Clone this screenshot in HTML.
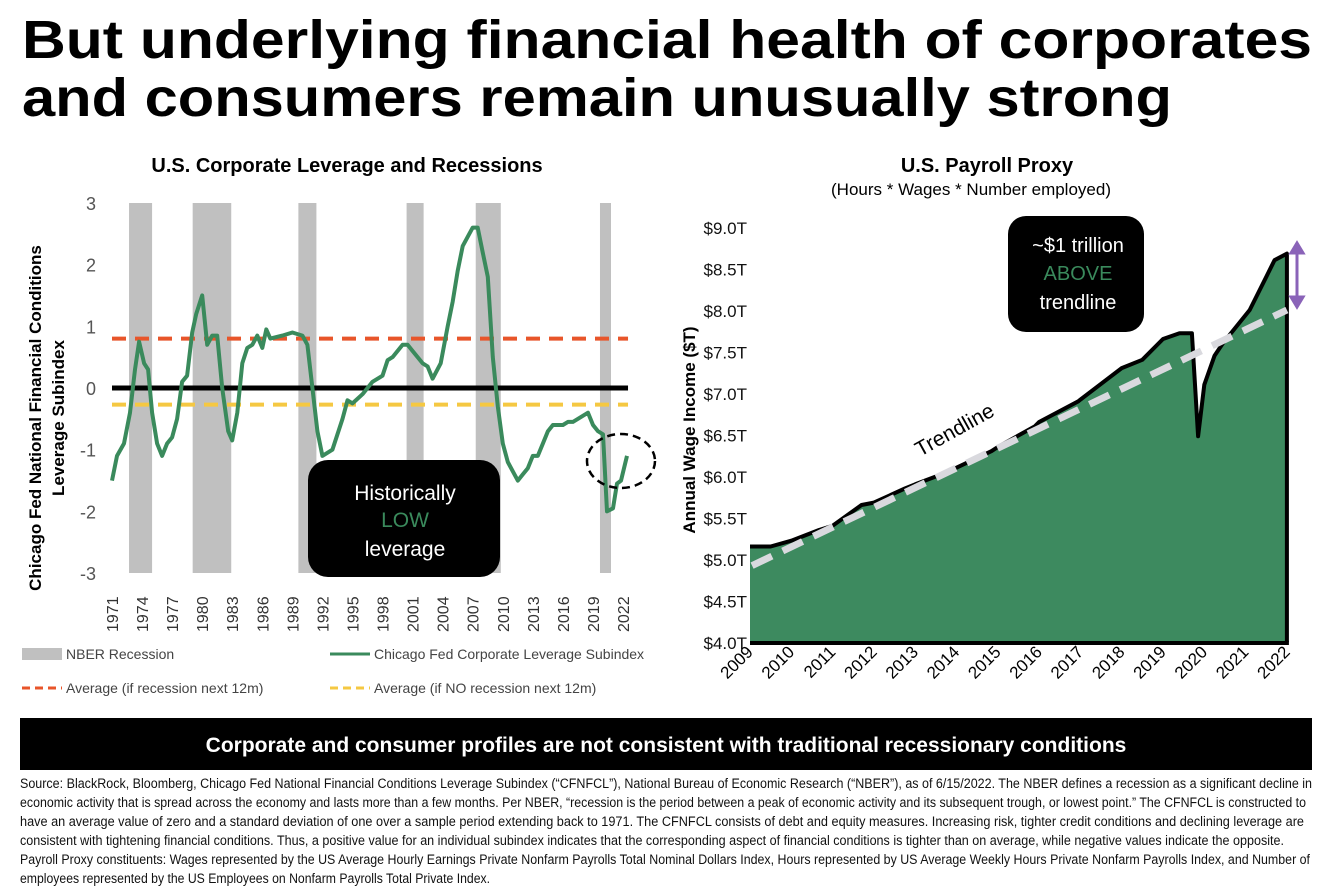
<!DOCTYPE html>
<html><head><meta charset="utf-8"><style>
html,body{margin:0;padding:0;background:#fff}
svg{display:block}
text{font-family:"Liberation Sans",sans-serif}
</style></head><body>
<svg id="s" width="1332" height="890" viewBox="0 0 1332 890" xmlns="http://www.w3.org/2000/svg">
<text x="22" y="58" font-size="54" font-weight="bold" textLength="1290" lengthAdjust="spacingAndGlyphs">But underlying financial health of corporates</text>
<text x="22" y="116" font-size="54" font-weight="bold" textLength="1150" lengthAdjust="spacingAndGlyphs">and consumers remain unusually strong</text>

<text x="347" y="172" font-size="20" font-weight="bold" text-anchor="middle">U.S. Corporate Leverage and Recessions</text>
<text x="987" y="172" font-size="20" font-weight="bold" text-anchor="middle">U.S. Payroll Proxy</text>
<text x="971" y="195" font-size="17" text-anchor="middle">(Hours * Wages * Number employed)</text>

<g id="left"></g>
<g id="right"></g>

<text transform="translate(41,418) rotate(-90)" font-size="17" font-weight="bold" text-anchor="middle">Chicago Fed National Financial Conditions</text>
<text transform="translate(64,418) rotate(-90)" font-size="17" font-weight="bold" text-anchor="middle">Leverage Subindex</text>
<text transform="translate(695,430) rotate(-90)" font-size="17" font-weight="bold" text-anchor="middle">Annual Wage Income ($T)</text>

<g font-size="14" fill="#444">
<rect x="22" y="648" width="40" height="12" fill="#c0c0c0"/>
<text x="66" y="659">NBER Recession</text>
<line x1="330" y1="654" x2="370" y2="654" stroke="#3a8a5c" stroke-width="3"/>
<text x="374" y="659">Chicago Fed Corporate Leverage Subindex</text>
<line x1="22" y1="688" x2="62" y2="688" stroke="#e8552a" stroke-width="3" stroke-dasharray="8,5"/>
<text x="66" y="693">Average (if recession next 12m)</text>
<line x1="330" y1="688" x2="370" y2="688" stroke="#f5c842" stroke-width="3" stroke-dasharray="8,5"/>
<text x="374" y="693">Average (if NO recession next 12m)</text>
</g>

<rect x="20" y="718" width="1292" height="52" fill="#000"/>
<text x="666" y="752" font-size="21" font-weight="bold" fill="#fff" text-anchor="middle">Corporate and consumer profiles are not consistent with traditional recessionary conditions</text>

<g font-size="13.5" fill="#111">
<text x="20" y="788" textLength="1292" lengthAdjust="spacingAndGlyphs">Source: BlackRock, Bloomberg, Chicago Fed National Financial Conditions Leverage Subindex (“CFNFCL”), National Bureau of Economic Research (“NBER”), as of 6/15/2022. The NBER defines a recession as a significant decline in</text>
<text x="20" y="807" textLength="1286" lengthAdjust="spacingAndGlyphs">economic activity that is spread across the economy and lasts more than a few months. Per NBER, “recession is the period between a peak of economic activity and its subsequent trough, or lowest point.” The CFNFCL is constructed to</text>
<text x="20" y="826" textLength="1284" lengthAdjust="spacingAndGlyphs">have an average value of zero and a standard deviation of one over a sample period extending back to 1971. The CFNFCL consists of debt and equity measures. Increasing risk, tighter credit conditions and declining leverage are</text>
<text x="20" y="845" textLength="1264" lengthAdjust="spacingAndGlyphs">consistent with tightening financial conditions. Thus, a positive value for an individual subindex indicates that the corresponding aspect of financial conditions is tighter than on average, while negative values indicate the opposite.</text>
<text x="20" y="864" textLength="1290" lengthAdjust="spacingAndGlyphs">Payroll Proxy constituents: Wages represented by the US Average Hourly Earnings Private Nonfarm Payrolls Total Nominal Dollars Index, Hours represented by US Average Weekly Hours Private Nonfarm Payrolls Index, and Number of</text>
<text x="20" y="883" textLength="470" lengthAdjust="spacingAndGlyphs">employees represented by the US Employees on Nonfarm Payrolls Total Private Index.</text>
</g>
</svg>
<script>
const NS='http://www.w3.org/2000/svg';
// ---- Left chart data ----
const levYears=[1971,1971.5,1972.2,1972.8,1973.3,1973.7,1974.2,1974.6,1975,1975.5,1976,1976.5,1977,1977.5,1978,1978.5,1979,1979.4,1980,1980.5,1981,1981.5,1982,1982.6,1983,1983.5,1984,1984.5,1985,1985.5,1986,1986.4,1986.8,1988,1989,1990,1990.5,1991,1991.5,1992,1993,1994,1994.5,1995,1996,1997,1998,1998.5,1999,2000,2000.5,2001,2001.5,2002,2002.5,2003,2003.8,2004.5,2005,2005.5,2006,2007,2007.5,2008,2008.5,2009,2009.5,2010,2010.5,2011,2011.5,2012,2012.5,2013,2013.5,2014,2014.5,2015,2016,2016.5,2017,2018,2018.5,2019,2019.5,2020,2020.4,2021,2021.4,2021.8,2022.4];
const levValues=[-1.5,-1.1,-0.9,-0.4,0.3,0.75,0.4,0.3,-0.4,-0.9,-1.1,-0.9,-0.8,-0.5,0.1,0.2,0.9,1.2,1.5,0.7,0.85,0.85,0,-0.7,-0.85,-0.4,0.4,0.65,0.7,0.85,0.65,0.95,0.8,0.85,0.9,0.85,0.7,0,-0.7,-1.1,-1.0,-0.5,-0.2,-0.25,-0.1,0.1,0.2,0.45,0.5,0.7,0.7,0.6,0.5,0.4,0.35,0.15,0.4,1.0,1.4,1.9,2.3,2.6,2.6,2.2,1.8,0.5,-0.3,-0.9,-1.2,-1.35,-1.5,-1.4,-1.3,-1.1,-1.1,-0.9,-0.7,-0.6,-0.6,-0.55,-0.55,-0.45,-0.4,-0.6,-0.7,-0.75,-2.0,-1.95,-1.55,-1.5,-1.1];
const recStart=[1972.7,1979.05,1989.6,2000.4,2007.3,2019.7];
const recEnd=[1975.0,1982.9,1991.4,2002.1,2009.8,2020.8];
const levTicks=[3,2,1,0,-1,-2,-3];
const levXTicks=[1971,1974,1977,1980,1983,1986,1989,1992,1995,1998,2001,2004,2007,2010,2013,2016,2019,2022];
const avgRecession=0.8, avgNoRecession=-0.27;
// ---- Right chart data ----
const payYears=[2009,2009.5,2010,2010.67,2011,2011.7,2012,2012.75,2013,2013.8,2014,2014.85,2015,2015.9,2016,2016.95,2017,2018,2018.5,2019,2019.4,2019.7,2019.85,2020.0,2020.25,2020.45,2021.1,2021.5,2021.7,2022];
const payValues=[5.15,5.15,5.22,5.35,5.4,5.65,5.68,5.85,5.9,6.05,6.1,6.3,6.35,6.6,6.65,6.9,6.92,7.3,7.4,7.65,7.72,7.72,6.48,7.1,7.45,7.6,8.0,8.4,8.6,8.68];
const trendYears=[2009.05,2022];
const trendValues=[4.92,8.0];
const payTicks=[9.0,8.5,8.0,7.5,7.0,6.5,6.0,5.5,5.0,4.5,4.0];
const payXTicks=[2009,2010,2011,2012,2013,2014,2015,2016,2017,2018,2019,2020,2021,2022];

function mk(p,tag,a){const e=document.createElementNS(NS,tag);for(const k in a)e.setAttribute(k,a[k]);p.appendChild(e);return e;}

// left
const L=document.getElementById('left');
const lx=y=>112+(y-1971)*10.02;
const ly=v=>388-v*61.7;
recStart.forEach((s,i)=>{const r=mk(L,'rect',{x:lx(s),y:203,width:lx(recEnd[i])-lx(s),height:370,fill:'#c0c0c0'});

});
levTicks.forEach(t=>{const e=mk(L,'text',{x:96,y:ly(t)+7,'font-size':18,fill:'#555','text-anchor':'end'});e.textContent=t;

});
levXTicks.forEach(t=>{const e=mk(L,'text',{transform:`translate(${lx(t)+6},632) rotate(-90)`,'font-size':16,fill:'#333'});e.textContent=t;

});
let z=mk(L,'line',{x1:lx(1971),x2:lx(2022.5),y1:ly(0),y2:ly(0),stroke:'#000','stroke-width':5});


let r1=mk(L,'line',{x1:lx(1971),x2:lx(2022.5),y1:ly(avgRecession),y2:ly(avgRecession),stroke:'#e8552a','stroke-width':4,'stroke-dasharray':'14,9'});


let r2=mk(L,'line',{x1:lx(1971),x2:lx(2022.5),y1:ly(avgNoRecession),y2:ly(avgNoRecession),stroke:'#f5c842','stroke-width':4,'stroke-dasharray':'14,9'});


let lp=mk(L,'path',{d:levYears.map((y,i)=>(i?'L':'M')+lx(y).toFixed(1)+','+ly(levValues[i]).toFixed(1)).join(''),fill:'none',stroke:'#3a8a5c','stroke-width':4,'stroke-linejoin':'round'});


let el=mk(L,'ellipse',{cx:621,cy:461,rx:34,ry:27,fill:'none',stroke:'#000','stroke-width':2.5,'stroke-dasharray':'8,5'});


let bx=mk(L,'rect',{x:308,y:460,width:192,height:117,rx:20,fill:'#000'});


[['Historically','#fff',500],['LOW','#3a8a5c',527],['leverage','#fff',556]].forEach(a=>{const e=mk(L,'text',{x:405,y:a[2],'font-size':21,fill:a[1],'text-anchor':'middle'});e.textContent=a[0];

});

// right
const R=document.getElementById('right');
const px=y=>750+(y-2009)*41.3;
const py=v=>642-(v-4)*83;
let ar=mk(R,'path',{d:'M'+px(2009)+','+py(4)+payYears.map((y,i)=>'L'+px(y).toFixed(1)+','+py(payValues[i]).toFixed(1)).join('')+'L'+px(2022)+','+py(4)+'Z',fill:'#3d8a5f'});


let ln=mk(R,'path',{d:payYears.map((y,i)=>(i?'L':'M')+px(y).toFixed(1)+','+py(payValues[i]).toFixed(1)).join('')+'L'+px(2022)+','+py(4),fill:'none',stroke:'#000','stroke-width':4,'stroke-linejoin':'round'});


let bl=mk(R,'line',{x1:px(2009),x2:px(2022)+2,y1:py(4)+1,y2:py(4)+1,stroke:'#000','stroke-width':4});


let tl=mk(R,'line',{x1:px(trendYears[0]),y1:py(trendValues[0]),x2:px(trendYears[1]),y2:py(trendValues[1]),stroke:'#d9d9de','stroke-width':7,'stroke-dasharray':'22,12'});


let tt=mk(R,'text',{transform:'translate(920,457) rotate(-29)','font-size':21,fill:'#000'});tt.textContent='Trendline';


payTicks.forEach(t=>{const e=mk(R,'text',{x:747,y:py(t)+7,'font-size':17,fill:'#111','text-anchor':'end'});e.textContent='$'+t.toFixed(1)+'T';

});
payXTicks.forEach(t=>{const e=mk(R,'text',{transform:`translate(${px(t)+4},653) rotate(-45)`,'font-size':17,fill:'#000','text-anchor':'end'});e.textContent=t;

});
let cb=mk(R,'rect',{x:1008,y:216,width:136,height:116,rx:18,fill:'#000'});


[['~$1 trillion','#fff',252],['ABOVE','#3a8a5c',280],['trendline','#fff',309]].forEach(a=>{const e=mk(R,'text',{x:1078,y:a[2],'font-size':20,fill:a[1],'text-anchor':'middle'});e.textContent=a[0];

});
let pa=mk(R,'path',{d:'M1297,246L1297,304M1291,253L1297,243L1303,253ZM1291,297L1297,307L1303,297Z',stroke:'#8a63b8','stroke-width':3,fill:'#8a63b8'});


</script>
</body></html>
